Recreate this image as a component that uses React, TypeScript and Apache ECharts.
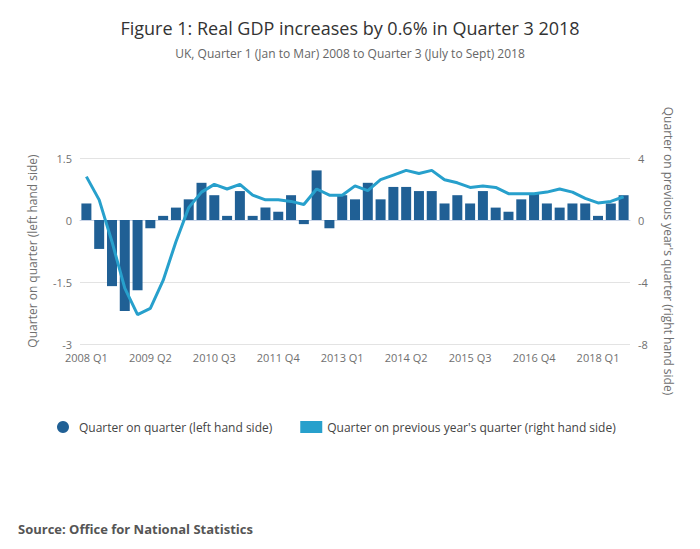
import { useEffect, useRef } from "react";
import * as echarts from "echarts";

const years = [2008, 2009, 2010, 2011, 2012, 2013, 2014, 2015, 2016, 2017, 2018];
const quarters: string[] = [];
years.forEach((y) => [1, 2, 3, 4].forEach((q) => { if (!(y === 2018 && q === 4)) quarters.push(`${y} Q${q}`); }));

// quarter on quarter growth, %
const qoq = [
  0.4, -0.7, -1.6, -2.2, -1.7, -0.2, 0.1, 0.3, 0.5, 0.9, 0.6, 0.1, 0.7, 0.1, 0.3, 0.2,
  0.6, -0.1, 1.2, -0.2, 0.6, 0.5, 0.9, 0.5, 0.8, 0.8, 0.7, 0.7, 0.4, 0.6, 0.4, 0.7,
  0.3, 0.2, 0.5, 0.65, 0.4, 0.3, 0.4, 0.4, 0.1, 0.4, 0.6,
];
// quarter on same quarter a year ago, %
const yoy = [
  2.8, 1.3, -1.4, -4.4, -6.1, -5.7, -3.9, -1.4, 0.8, 1.8, 2.3, 2.0, 2.3, 1.6, 1.3, 1.3,
  1.2, 1.0, 2.0, 1.6, 1.6, 2.2, 1.9, 2.6, 2.9, 3.2, 3.0, 3.2, 2.6, 2.4, 2.1, 2.2,
  2.1, 1.7, 1.7, 1.7, 1.8, 2.0, 1.8, 1.4, 1.1, 1.2, 1.5,
];

const FONT = "Open Sans";
const GREY = "#707070";

export default function App() {
  const ref = useRef<HTMLDivElement>(null);

  useEffect(() => {
    if (!ref.current) return;
    const chart = echarts.init(ref.current, undefined, { renderer: "svg" });
    chart.setOption({
      animation: false,
      textStyle: { fontFamily: FONT },
      title: {
        text: "Figure 1: Real GDP increases by 0.6% in Quarter 3 2018",
        subtext: "UK, Quarter 1 (Jan to Mar) 2008 to Quarter 3 (July to Sept) 2018",
        left: "center",
        top: 6,
        itemGap: 10,
        textStyle: { fontFamily: FONT, fontSize: 18, fontWeight: "normal", color: "#333" },
        subtextStyle: { fontFamily: FONT, fontSize: 12, color: "#666" },
      },
      legend: {
        top: 408,
        left: 44,
        itemGap: 28,
        textStyle: { fontFamily: FONT, fontSize: 12, color: "#444" },
        data: [
          { name: "Quarter on quarter (left hand side)", icon: "circle" },
          { name: "Quarter on previous year's quarter (right hand side)", icon: "rect" },
        ],
        itemWidth: 22,
        itemHeight: 12,
      },
      graphic: [
        {
          type: "text",
          left: 10,
          top: 514,
          style: { text: "Source: Office for National Statistics", fontFamily: FONT, fontSize: 13, fontWeight: "bold", fill: "#555" },
        },
      ],
      grid: { left: 72, right: 62, top: 150, bottom: 197 },
      xAxis: {
        type: "category",
        data: quarters,
        axisLine: { lineStyle: { color: "#c6d2e6" } },
        axisTick: { alignWithLabel: true, interval: 4, lineStyle: { color: "#c6d2e6" } },
        axisLabel: { interval: 4, color: GREY, fontSize: 11 },
      },
      yAxis: [
        {
          type: "value",
          min: -3,
          max: 1.5,
          interval: 1.5,
          name: "Quarter on quarter (left hand side)",
          nameLocation: "middle",
          nameGap: 42,
          nameTextStyle: { color: GREY, fontSize: 12 },
          axisLabel: { color: GREY, fontSize: 11 },
          splitLine: { lineStyle: { color: "#e3e3e3" } },
        },
        {
          type: "value",
          min: -8,
          max: 4,
          interval: 4,
          name: "Quarter on previous year's quarter (right hand side)",
          nameLocation: "middle",
          nameGap: 32,
          nameRotate: -90,
          nameTextStyle: { color: GREY, fontSize: 12 },
          axisLabel: { color: GREY, fontSize: 11 },
          splitLine: { show: false },
        },
      ],
      series: [
        {
          name: "Quarter on quarter (left hand side)",
          type: "bar",
          data: qoq,
          barWidth: 10,
          itemStyle: { color: "#206095" },
        },
        {
          name: "Quarter on previous year's quarter (right hand side)",
          type: "line",
          yAxisIndex: 1,
          data: yoy,
          symbol: "none",
          lineStyle: { color: "#27a0cc", width: 3 },
          itemStyle: { color: "#27a0cc" },
        },
      ],
    });
    return () => chart.dispose();
  }, []);

  return <div ref={ref} style={{ width: 684, height: 533 }} />;
}
